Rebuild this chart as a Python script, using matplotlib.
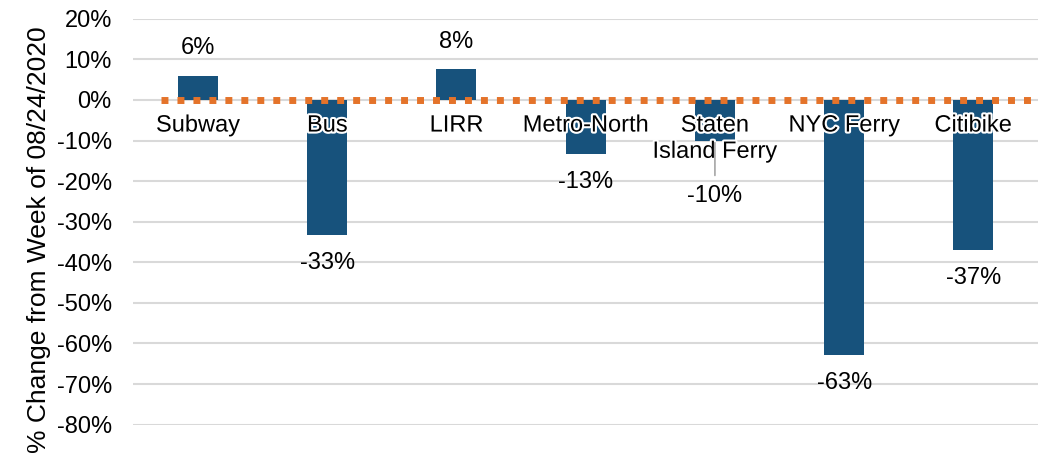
import numpy as np
import matplotlib
matplotlib.use("Agg")
import matplotlib.pyplot as plt
import matplotlib.patheffects as pe

plt.rcParams['font.family'] = ['Liberation Sans', 'DejaVu Sans']

# Data
categories = ['Subway', 'Bus', 'LIRR', 'Metro-North', 'Staten\nIsland Ferry', 'NYC Ferry', 'Citibike']
pct_change = [5.9, -33.3, 7.5, -13.3, -10.2, -62.9, -37.0]
value_labels = ['6%', '-33%', '8%', '-13%', '-10%', '-63%', '-37%']
yticks = [20, 10, 0, -10, -20, -30, -40, -50, -60, -70, -80]

bar_color = '#17527C'
line_color = '#E4732A'
grid_color = '#D9D9D9'

fig = plt.figure(figsize=(10.38, 4.57), dpi=100)
ax = fig.add_axes([0.1285, 0.0707, 0.8715, 0.8883])

x = np.arange(len(categories))
ax.bar(x, pct_change, width=0.31, color=bar_color, zorder=2)

# reference line at zero
ax.axhline(0, xmin=0.03, xmax=1.0, color=line_color, linewidth=5,
           linestyle=(0, (1.0, 1.3)), dash_capstyle='butt', zorder=3)

ax.set_xlim(-0.5, len(categories) - 0.5)
ax.set_ylim(-80, 20)
ax.set_yticks(yticks)
ax.set_yticklabels([f'{t}%' for t in yticks], fontsize=17)
ax.set_xticks([])
ax.yaxis.grid(True, color=grid_color, linewidth=1.5, zorder=0)
ax.set_axisbelow(True)
ax.tick_params(axis='y', length=0, pad=15.5)
for s in ax.spines.values():
    s.set_visible(False)

ax.set_ylabel('% Change from Week of 08/24/2020', fontsize=19)
ax.yaxis.set_label_coords(-0.091, 0.455)

# category names sit just below zero with a white halo
for xi, name in zip(x, categories):
    ax.text(xi, -3.6, name, ha='center', va='top', fontsize=17, linespacing=1.25,
            zorder=5, path_effects=[pe.withStroke(linewidth=3, foreground='white')])

# value labels
for xi, v, lab in zip(x, pct_change, value_labels):
    if lab == '-10%':
        ax.annotate(lab, xy=(xi, v), xytext=(xi, v - 13.5), ha='center', va='center',
                    fontsize=17, zorder=6,
                    arrowprops=dict(arrowstyle='-', color='#A6A6A6', lw=1.2,
                                    shrinkA=5, shrinkB=1))
    else:
        off = 20 if v > 0 else -20
        ax.annotate(lab, xy=(xi, v), xytext=(0, off), textcoords='offset points',
                    ha='center', va='center', fontsize=17, zorder=4)

fig.savefig('out.png', dpi=100)
